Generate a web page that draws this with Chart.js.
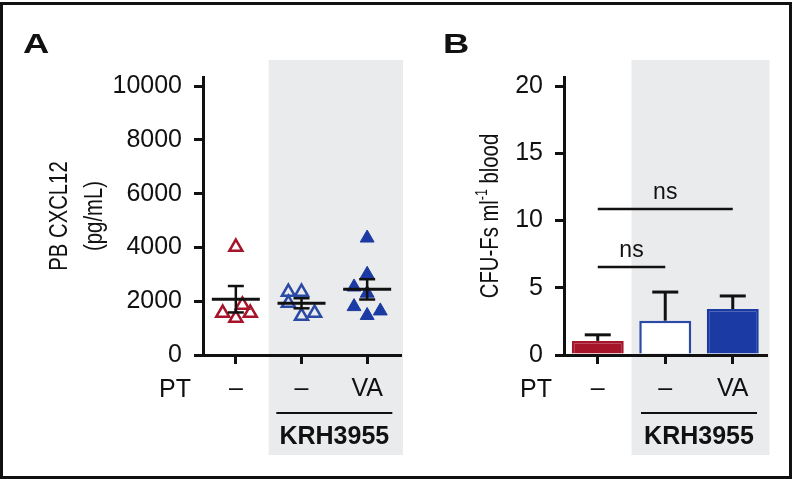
<!DOCTYPE html>
<html>
<head>
<meta charset="utf-8">
<script src="https://cdn.jsdelivr.net/npm/chart.js@4.4.1/dist/chart.umd.min.js"></script>
<style>
  body { margin: 0; background: #fff; }
  #wrap { position: relative; width: 794px; height: 479px; overflow: hidden; }
  #frame { position: absolute; left: 0; top: 2px; width: 792px; height: 477px; box-sizing: border-box; border: 3px solid #111; }
  canvas { position: absolute; top: 0; }
</style>
</head>
<body>
<div id="wrap">
  <div id="frame"></div>
  <canvas id="cxcl" width="410" height="479" style="left:0"></canvas>
  <canvas id="cfu" width="384" height="479" style="left:410px"></canvas>
</div>
<script>
const groupLabels = ["–", "–", "VA"];
const treatedFrom = 1; // groups from here on got KRH3955

// panel A: PB CXCL12 (pg/mL), one triangle per mouse
const cxclVehicle = [4015, 1560, 1375, 1860, 1560];
const cxclVehicleJitter = [0, -0.2, 0, 0.1, 0.22];
const cxclKrh = [2340, 2340, 1930, 1450, 1560];
const cxclKrhJitter = [-0.2, 0, -0.2, 0, 0.2];
const cxclKrhVa = [4350, 3000, 2530, 2300, 1800, 1470, 1640];
const cxclKrhVaJitter = [0, 0, -0.2, 0, -0.2, 0, 0.2];
const cxclTicks = [0, 2000, 4000, 6000, 8000, 10000];

// panel B: CFU-Fs per ml blood, mean + SEM
const cfuMean = [1.05, 2.55, 3.42];
const cfuSem = [0.45, 2.13, 0.97];
const cfuTicks = [0, 5, 10, 15, 20];
const cfuComparisons = [
  { from: 0, to: 1, y: 6.55, label: "ns" },
  { from: 0, to: 2, y: 10.85, label: "ns" },
];

const RED = "#a6142a";
const BLUE = "#2a4aa6";
const BLUE_FILL = "#1c3aa3";
const GRAY = "#e9ebec";
const INK = "#111";
const SANS = "'Liberation Sans', Arial, sans-serif";

Chart.defaults.font.family = SANS;
Chart.defaults.color = INK;

function toPoints(values, jitter, group) {
  return values.map((v, i) => ({ x: group + jitter[i], y: v }));
}

function meanSem(values) {
  const n = values.length;
  const m = values.reduce((a, b) => a + b, 0) / n;
  const sd = Math.sqrt(values.reduce((a, b) => a + (b - m) ** 2, 0) / (n - 1));
  return { m, sem: sd / Math.sqrt(n) };
}

function line(ctx, x1, y1, x2, y2) {
  ctx.beginPath();
  ctx.moveTo(x1, y1);
  ctx.lineTo(x2, y2);
  ctx.stroke();
}

// rotated axis title, squeezed along the text to look condensed
// parts: [text, fontSize, baselineShift]
function vTitle(ctx, parts, baseX, centerY) {
  const squeeze = 0.78;
  ctx.save();
  ctx.fillStyle = INK;
  ctx.translate(baseX, centerY);
  ctx.rotate(-Math.PI / 2);
  ctx.scale(squeeze, 1);
  ctx.textBaseline = "alphabetic";
  let total = 0;
  parts.forEach(p => { ctx.font = p[1] + "px " + SANS; total += ctx.measureText(p[0]).width; });
  let cx = -total / 2;
  parts.forEach(p => {
    ctx.font = p[1] + "px " + SANS;
    ctx.fillText(p[0], cx, p[2]);
    cx += ctx.measureText(p[0]).width;
  });
  ctx.restore();
}

const axisStyle = {
  grid: { display: true, drawOnChartArea: false, drawTicks: true, tickLength: 9, lineWidth: 3, color: INK },
  border: { display: true, width: 3, color: INK },
};

// gray KRH3955 band, panel letter, PT row and KRH3955 label
function decor(letter, letterX) {
  return {
    id: "decor",
    beforeDraw(chart) {
      const { ctx, chartArea, scales: { x } } = chart;
      const x0 = x.getPixelForValue(treatedFrom - 0.5);
      ctx.save();
      ctx.fillStyle = GRAY;
      ctx.fillRect(x0, 60, chartArea.right + 3 - x0, 395);
      ctx.restore();
    },
    afterDraw(chart) {
      const { ctx, chartArea, scales: { x } } = chart;
      ctx.save();
      ctx.fillStyle = INK;
      ctx.strokeStyle = INK;

      ctx.save();
      ctx.font = "bold 28px " + SANS;
      ctx.textBaseline = "alphabetic";
      ctx.translate(letterX, 53);
      ctx.scale(1.3, 1);
      ctx.fillText(letter, 0, 0);
      ctx.restore();

      ctx.font = "25px " + SANS;
      ctx.textAlign = "right";
      ctx.textBaseline = "middle";
      ctx.fillText("PT", chartArea.left - 12, chartArea.bottom + 35);

      const mid = (x.getPixelForValue(1) + x.getPixelForValue(2)) / 2;
      ctx.lineWidth = 2;
      line(ctx, mid - 58, chartArea.bottom + 58, mid + 58, chartArea.bottom + 58);
      ctx.font = "bold 25px " + SANS;
      ctx.textAlign = "center";
      ctx.fillText("KRH3955", mid, chartArea.bottom + 82);
      ctx.restore();
    },
  };
}

// panel A: mean line with SEM whiskers per group, plus y title
const meanLines = {
  id: "meanLines",
  afterDatasetsDraw(chart) {
    const { ctx, scales: { x, y } } = chart;
    ctx.save();
    ctx.strokeStyle = INK;
    chart.data.datasets.forEach((ds, i) => {
      const { m, sem } = meanSem(ds.data.map(p => p.y));
      const px = x.getPixelForValue(i);
      ctx.lineWidth = 3;
      line(ctx, px - 24, y.getPixelForValue(m), px + 24, y.getPixelForValue(m));
      ctx.lineWidth = 2.5;
      line(ctx, px, y.getPixelForValue(m - sem), px, y.getPixelForValue(m + sem));
      line(ctx, px - 8, y.getPixelForValue(m + sem), px + 8, y.getPixelForValue(m + sem));
      line(ctx, px - 8, y.getPixelForValue(m - sem), px + 8, y.getPixelForValue(m - sem));
    });
    ctx.restore();
  },
  afterDraw(chart) {
    vTitle(chart.ctx, [["PB CXCL12", 26, 0]], 67, 216);
    vTitle(chart.ctx, [["(pg/mL)", 26, 0]], 102, 216);
  },
};

// panel B: upper SEM whiskers, ns brackets and the y title with superscript
const barExtras = {
  id: "barExtras",
  afterDatasetsDraw(chart) {
    const { ctx, scales: { x, y } } = chart;
    ctx.save();
    ctx.strokeStyle = INK;
    ctx.fillStyle = INK;
    ctx.lineWidth = 3;
    cfuMean.forEach((m, i) => {
      const px = x.getPixelForValue(i);
      const top = y.getPixelForValue(m + cfuSem[i]);
      line(ctx, px, y.getPixelForValue(m), px, top);
      line(ctx, px - 13, top, px + 13, top);
    });
    ctx.lineWidth = 2.5;
    ctx.font = "23px " + SANS;
    ctx.textAlign = "center";
    ctx.textBaseline = "alphabetic";
    cfuComparisons.forEach(c => {
      const x1 = x.getPixelForValue(c.from);
      const x2 = x.getPixelForValue(c.to);
      const py = y.getPixelForValue(c.y);
      line(ctx, x1, py, x2, py);
      ctx.fillText(c.label, (x1 + x2) / 2, py - 10);
    });
    ctx.restore();
  },
  afterDraw(chart) {
    vTitle(chart.ctx, [["CFU-Fs ml", 26, 0], ["-1", 16, -11], [" blood", 26, 0]], 88, 216);
  },
};

new Chart(document.getElementById("cxcl"), {
  type: "scatter",
  data: {
    datasets: [
      { data: toPoints(cxclVehicle, cxclVehicleJitter, 0), borderColor: RED, backgroundColor: "transparent",
        pointStyle: "triangle", pointRadius: 7.5, borderWidth: 2.5 },
      { data: toPoints(cxclKrh, cxclKrhJitter, 1), borderColor: BLUE, backgroundColor: "transparent",
        pointStyle: "triangle", pointRadius: 7.5, borderWidth: 2.5 },
      { data: toPoints(cxclKrhVa, cxclKrhVaJitter, 2), borderColor: BLUE_FILL, backgroundColor: BLUE_FILL,
        pointStyle: "triangle", pointRadius: 8, borderWidth: 1 },
    ],
  },
  options: {
    responsive: false,
    animation: false,
    layout: { padding: { left: 0, right: 5, top: 77, bottom: 0 } },
    plugins: { legend: { display: false }, tooltip: { enabled: false } },
    scales: {
      x: {
        type: "linear",
        min: -0.5,
        max: 2.5,
        afterBuildTicks: s => { s.ticks = groupLabels.map((_, i) => ({ value: i })); },
        afterFit: s => { s.height = 124; },
        ticks: { callback: v => groupLabels[v], font: { size: 25 }, padding: 10 },
        ...axisStyle,
      },
      y: {
        min: 0,
        max: 10340,
        afterBuildTicks: s => { s.ticks = cxclTicks.map(v => ({ value: v })); },
        afterFit: s => { s.width = 203; },
        ticks: { callback: v => String(v), font: { size: 25 }, padding: 12 },
        ...axisStyle,
      },
    },
  },
  plugins: [decor("A", 23), meanLines],
});

new Chart(document.getElementById("cfu"), {
  type: "bar",
  data: {
    labels: groupLabels,
    datasets: [{
      data: cfuMean,
      backgroundColor: [RED, "#ffffff", BLUE_FILL],
      borderColor: [RED, BLUE, BLUE_FILL],
      borderWidth: 2.5,
      barPercentage: 0.77,
      categoryPercentage: 1,
    }],
  },
  options: {
    responsive: false,
    animation: false,
    layout: { padding: { left: 0, right: 27.5, top: 77, bottom: 0 } },
    plugins: { legend: { display: false }, tooltip: { enabled: false } },
    scales: {
      x: {
        offset: true,
        afterFit: s => { s.height = 124; },
        ticks: { font: { size: 25 }, padding: 10 },
        ...axisStyle,
        grid: { ...axisStyle.grid, offset: false },
      },
      y: {
        min: 0,
        max: 20.67,
        afterBuildTicks: s => { s.ticks = cfuTicks.map(v => ({ value: v })); },
        afterFit: s => { s.width = 154; },
        ticks: { callback: v => String(v), font: { size: 25 }, padding: 12 },
        ...axisStyle,
      },
    },
  },
  plugins: [decor("B", 33), barExtras],
});
</script>
</body>
</html>
